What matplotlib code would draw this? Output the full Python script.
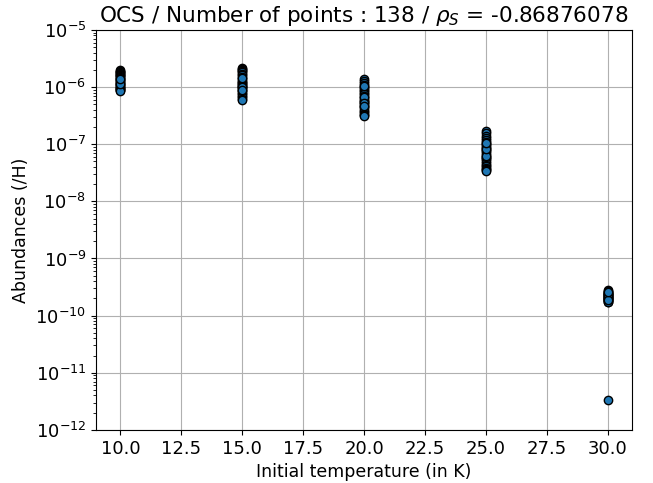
import numpy as np
import matplotlib
matplotlib.use("Agg")
import matplotlib.pyplot as plt

temps = [10, 15, 20, 25, 30]
ab_10 = [2.0e-6, 1.9e-6, 1.85e-6, 1.8e-6, 1.75e-6, 1.7e-6, 1.65e-6, 1.6e-6, 1.55e-6, 1.5e-6,
         1.45e-6, 1.4e-6, 1.35e-6, 1.3e-6, 1.25e-6, 1.2e-6, 1.15e-6, 1.1e-6, 1.05e-6, 1.0e-6,
         0.98e-6, 0.95e-6, 0.92e-6, 0.9e-6, 0.88e-6, 0.86e-6, 1.12e-6, 1.38e-6]
ab_15 = [2.2e-6, 2.1e-6, 2.0e-6, 1.9e-6, 1.8e-6, 1.7e-6, 1.6e-6, 1.5e-6, 1.4e-6, 1.3e-6,
         1.25e-6, 1.2e-6, 1.15e-6, 1.1e-6, 1.05e-6, 1.0e-6, 0.95e-6, 0.9e-6, 0.85e-6, 0.8e-6,
         0.75e-6, 0.7e-6, 0.66e-6, 0.62e-6, 0.6e-6, 1.45e-6, 1.02e-6, 0.88e-6]
ab_20 = [1.4e-6, 1.3e-6, 1.2e-6, 1.1e-6, 1.0e-6, 0.95e-6, 0.9e-6, 0.85e-6, 0.8e-6, 0.75e-6,
         0.7e-6, 0.65e-6, 0.6e-6, 0.57e-6, 0.54e-6, 0.5e-6, 0.47e-6, 0.44e-6, 0.41e-6, 0.38e-6,
         0.36e-6, 0.34e-6, 0.32e-6, 0.31e-6, 0.68e-6, 0.52e-6, 1.05e-6, 0.46e-6]
ab_25 = [1.7e-7, 1.55e-7, 1.4e-7, 1.3e-7, 1.2e-7, 1.1e-7, 1.0e-7, 0.95e-7, 0.9e-7, 0.85e-7,
         0.8e-7, 0.75e-7, 0.7e-7, 0.65e-7, 0.6e-7, 0.57e-7, 0.54e-7, 0.5e-7, 0.47e-7, 0.44e-7,
         0.41e-7, 0.39e-7, 0.37e-7, 0.35e-7, 0.34e-7, 0.62e-7, 0.82e-7, 1.05e-7]
ab_30 = [2.8e-10, 2.7e-10, 2.6e-10, 2.5e-10, 2.4e-10, 2.35e-10, 2.3e-10, 2.25e-10, 2.2e-10, 2.15e-10,
         2.1e-10, 2.05e-10, 2.0e-10, 1.95e-10, 1.9e-10, 1.85e-10, 1.8e-10, 1.75e-10, 1.7e-10, 2.45e-10,
         2.12e-10, 1.98e-10, 2.28e-10, 1.88e-10, 2.55e-10, 3.3e-12]
groups = [ab_10, ab_15, ab_20, ab_25, ab_30]

xs, ys = [], []
for t, g in zip(temps, groups):
    xs += [t] * len(g)
    ys += g

fig, ax = plt.subplots(figsize=(6.53, 4.83), dpi=100)
ax.scatter(xs, ys, s=36, c="#1f77b4", edgecolors="black", linewidths=1.0, zorder=3)
ax.set_yscale("log")
ax.set_ylim(1e-12, 1e-5)
ax.grid(True, color="#b0b0b0")
ax.set_axisbelow(True)
ax.set_xlabel("Initial temperature (in K)", fontsize=12.5)
ax.set_ylabel("Abundances (/H)", fontsize=12.5)
ax.set_title(r"OCS / Number of points : 138 / $\rho_S$ = -0.86876078", fontsize=15.5)
ax.tick_params(labelsize=13)
fig.subplots_adjust(left=0.147, right=0.968, top=0.938, bottom=0.11)
fig.savefig("out.png", dpi=100)
